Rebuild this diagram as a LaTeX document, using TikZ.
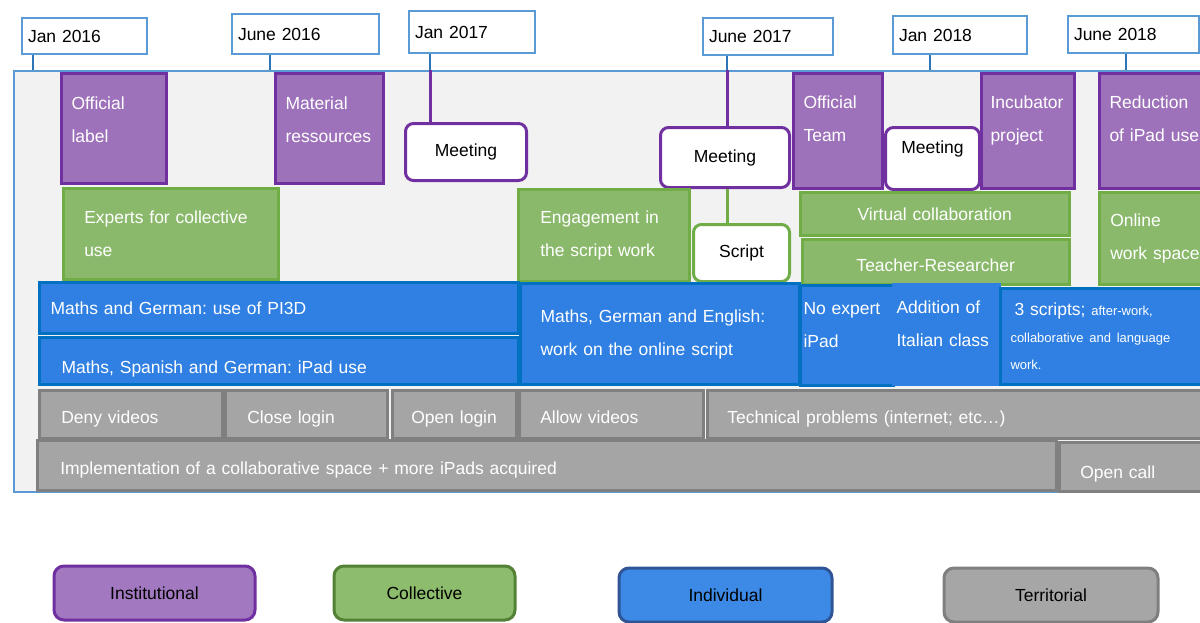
\documentclass[tikz,border=0pt]{standalone}
\usepackage{fontspec}
\setmainfont{Liberation Sans}
\frenchspacing
\usetikzlibrary{positioning}
\definecolor{instfill}{HTML}{9E72BA}
\definecolor{instline}{HTML}{7030A0}
\definecolor{collfill}{HTML}{8AB96B}
\definecolor{collline}{HTML}{70AD47}
\definecolor{indivfill}{HTML}{2F80E2}
\definecolor{indivline}{HTML}{0070C0}
\definecolor{terrfill}{HTML}{A5A5A5}
\definecolor{terrline}{HTML}{808080}
\definecolor{framefill}{HTML}{F2F2F2}
\definecolor{frameline}{HTML}{5B9BD5}
\definecolor{tickline}{HTML}{2E75B6}
\definecolor{leginstfill}{HTML}{A279C1}
\definecolor{legcollfill}{HTML}{8DBD6C}
\definecolor{legcollline}{HTML}{538135}
\definecolor{legindivfill}{HTML}{3C8AE6}
\definecolor{legindivline}{HTML}{2F5597}
\definecolor{legterrfill}{HTML}{A6A6A6}
\definecolor{legterrline}{HTML}{7F7F7F}

\begin{document}
\begin{tikzpicture}[x=1pt,y=-1pt]
  \tikzstyle{every node}=[font=\fontsize{17.5}{33}\selectfont]
  \tikzstyle{cell}=[anchor=north west,align=left,inner ysep=0pt,text=white]
  \tikzstyle{datebox}=[cell,draw=frameline,fill=white,line width=2pt,text=black,inner xsep=6pt]
  \tikzstyle{inst}=[cell,draw=instline,fill=instfill,line width=3pt,text height=33pt,text depth=72pt]
  \tikzstyle{coll}=[cell,draw=collline,fill=collfill,line width=2.5pt]
  \tikzstyle{indiv}=[cell,draw=indivline,fill=indivfill,line width=3pt]
  \tikzstyle{terr}=[cell,draw=terrline,fill=terrfill,line width=2.5pt,text height=19pt,text depth=0pt]
  \tikzstyle{event}=[cell,align=center,text=black,fill=white,line width=3pt,rounded corners=8pt]
  \tikzstyle{legend}=[anchor=north west,line width=3pt,rounded corners=10pt,text=black]
  \tikzstyle{top}=[text height=29pt,text depth=71pt]
  \tikzstyle{low}=[text height=19pt,text depth=0pt]
  \tikzstyle{tick}=[draw=tickline,line width=2pt]
  \useasboundingbox (0,0) rectangle (1200,622);
  \clip (0,0) rectangle (1200,622);
  % time line
  \node[anchor=north west,draw=frameline,fill=framefill,line width=2pt,
        minimum width=1210pt,minimum height=421pt] (frame) at (13,70) {};
  \node[datebox,minimum width=125pt,minimum height=36pt,text width=113pt] (jan16) at (21,17) {Jan 2016};
  \node[datebox,minimum width=147pt,minimum height=40pt,text width=135pt] (jun16) at (231,13) {June 2016};
  \node[datebox,minimum width=126pt,minimum height=42pt,text width=114pt] (jan17) at (408,10) {Jan 2017};
  \node[datebox,minimum width=130pt,minimum height=37pt,text width=118pt] (jun17) at (702,17) {June 2017};
  \node[datebox,minimum width=134pt,minimum height=38pt,text width=122pt] (jan18) at (892,15) {Jan 2018};
  \node[datebox,minimum width=131pt,minimum height=37pt,text width=119pt] (jun18) at (1067,15) {June 2018};
  \coordinate (t1) at (33,70);
  \coordinate (t2) at (270,70);
  \coordinate (t3) at (430,70);
  \coordinate (t4) at (727,70);
  \coordinate (t5) at (930,70);
  \coordinate (t6) at (1126,70);
  % institutional
  \node[inst,minimum width=105pt,minimum height=110pt,inner xsep=10pt,text width=85pt] (label) at (60,72) {Official\\label};
  \node[inst,minimum width=108pt,minimum height=110pt,inner xsep=10pt,text width=88pt] (material) at (274,72) {Material\\ressources};
  \node[inst,text depth=78pt,minimum width=89pt,minimum height=115pt,inner xsep=10pt,text width=69pt] (team) at (792,72) {Official\\Team};
  \node[inst,text depth=78pt,minimum width=93pt,minimum height=115pt,inner xsep=9pt,text width=75pt] (incubator) at (980,72) {Incubator\\project};
  \node[inst,text depth=78pt,minimum width=125pt,minimum height=115pt,inner xsep=10pt,text width=105pt] (reduction) at (1098,72) {Reduction\\of iPad use};
  \node[event,draw=instline,minimum width=121pt,minimum height=57pt,text width=109pt] (meet1) at (404,122) {Meeting};
  \node[event,draw=instline,minimum width=129pt,minimum height=60pt,text width=117pt] (meet2) at (659,126) {Meeting};
  \node[event,draw=instline,minimum width=94pt,minimum height=62pt,text width=82pt,text depth=22pt] (meet3) at (884,126) {Meeting};
  % collective
  \node[coll,minimum width=215pt,minimum height=91pt,inner xsep=21pt,text width=173pt] (experts) at (62,187) {Experts for collective\\use};
  \node[coll,minimum width=171pt,minimum height=92pt,inner xsep=22pt,text width=127pt] (engage) at (517,188) {Engagement in\\the script work};
  \node[event,draw=collline,minimum width=96pt,minimum height=57pt,text width=84pt] (script) at (692,223) {Script};
  \node[coll,align=center,minimum width=269pt,minimum height=43pt,text width=249pt] (virtual) at (799,191) {Virtual collaboration};
  \node[coll,low,align=center,minimum width=267pt,minimum height=45pt,text width=247pt] (teacher) at (801,238) {Teacher-Researcher};
  \node[coll,minimum width=125pt,minimum height=92pt,inner xsep=11pt,text width=103pt] (online) at (1098,191) {Online\\work space};
  % individual
  \node[indiv,minimum width=479pt,minimum height=51pt,inner xsep=11pt,text width=457pt] (pi3d) at (38,281) {Maths and German: use of PI3D};
  \node[indiv,text height=24pt,text depth=0pt,minimum width=479pt,minimum height=47pt,inner xsep=22pt,text width=435pt] (ipad) at (38,336) {Maths, Spanish and German: iPad use};
  \node[indiv,minimum width=279pt,minimum height=101pt,inner xsep=20pt,text width=239pt] (english) at (519,282) {Maths, German and English:\\work on the online script};
  \node[indiv,top,minimum width=93pt,inner xsep=3pt,text width=87pt] (noexpert) at (799,284) {No expert\\iPad};
  \node[indiv,top,draw=indivfill,minimum width=106pt,inner xsep=3pt,text width=100pt] (italian) at (892,283) {Addition of\\Italian class};
  \node[indiv,minimum width=225pt,minimum height=96pt,inner xsep=10pt,text width=205pt,
        font=\fontsize{17.5}{27}\selectfont] (scripts) at (999,287)
        {\hspace*{4pt}3 scripts; {\fontsize{13}{27}\selectfont after-work,\\collaborative and language\\work.}};
  % territorial
  \node[terr,minimum width=183pt,minimum height=48pt,inner xsep=22pt,text width=139pt] (deny) at (38,389) {Deny videos};
  \node[terr,minimum width=162pt,minimum height=48pt,inner xsep=22pt,text width=118pt] (close) at (224,389) {Close login};
  \node[terr,minimum width=124pt,minimum height=48pt,inner xsep=19pt,text width=86pt] (open) at (391,389) {Open login};
  \node[terr,minimum width=184pt,minimum height=48pt,inner xsep=21pt,text width=142pt] (allow) at (518,389) {Allow videos};
  \node[terr,minimum width=510pt,minimum height=48pt,inner xsep=20pt,text width=470pt] (technical) at (706,389) {Technical problems (internet; etc\ldots)};
  \node[terr,minimum width=1019pt,minimum height=50pt,inner xsep=23pt,text width=973pt] (space) at (36,439) {Implementation of a collaborative space + more iPads acquired};
  \node[terr,text height=36pt,text depth=13pt,minimum width=160pt,inner xsep=21pt,text width=118pt] (call) at (1058,441) {Open call};
  % dates to line
  \draw[tick] (t1 |- jan16.south) -- (t1);
  \draw[tick] (t2 |- jun16.south) -- (t2);
  \draw[tick] (t3 |- jan17.south) -- (t3);
  \draw[tick] (t4 |- jun17.south) -- (t4);
  \draw[tick] (t5 |- jan18.south) -- (t5);
  \draw[tick] (t6 |- jun18.south) -- (t6);
  \draw[instline,line width=3pt] (t3) -- (t3 |- meet1.north);
  \draw[instline,line width=3pt] (t4) -- (t4 |- meet2.north);
  \draw[collline,line width=3pt] (t4 |- meet2.south) -- (t4 |- script.north);
  % legend
  \node[legend,draw=instline,fill=leginstfill,minimum width=201pt,minimum height=54pt] (linst) at (52.5,564.5) {Institutional};
  \node[legend,draw=legcollline,fill=legcollfill,minimum width=181pt,minimum height=54pt] (lcoll) at (332.5,564.5) {Collective};
  \node[legend,draw=legindivline,fill=legindivfill,minimum width=213pt,minimum height=54pt] (lindiv) at (617.5,566.5) {Individual};
  \node[legend,draw=legterrline,fill=legterrfill,minimum width=214pt,minimum height=54pt] (lterr) at (942.5,566.5) {Territorial};
\end{tikzpicture}
\end{document}
